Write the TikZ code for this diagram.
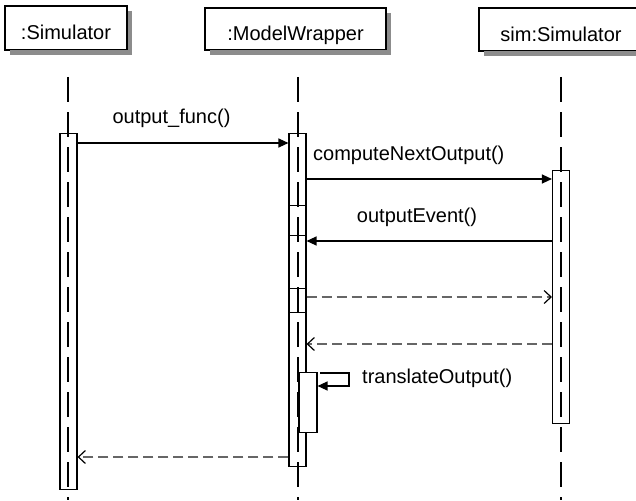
\documentclass[tikz,border=0pt]{standalone}
\usepackage{fontspec}
\setmainfont{Liberation Sans}
\usetikzlibrary{arrows.meta}
\definecolor{shadowgray}{RGB}{140,140,140}
\begin{document}
\begin{tikzpicture}[x=1pt,y=-1pt,
  every node/.style={font=\fontsize{20}{24}\selectfont},
  head/.style={draw, line width=1.2pt, fill=white, inner sep=0pt,
    text height=24pt, text depth=0pt},
  headshadow/.style={draw=shadowgray, line width=4.6pt, line cap=butt},
  life/.style={line width=1.2pt, dash pattern=on 25pt off 10pt},
  bar/.style={draw, line width=1.1pt, minimum width=17pt, inner sep=0pt, anchor=north},
  msg/.style={line width=1.2pt, -{Triangle[length=10pt,width=9pt]}},
  ret/.style={line width=1.2pt, draw=black!60, dash pattern=on 10pt off 5pt,
    -{Straight Barb[length=7pt,width=13pt,line width=1.2pt,color=black]}},
  lbl/.style={inner sep=0pt}
]
\useasboundingbox (0,0) rectangle (636,500);
% heads
\node[head, minimum width=122pt, minimum height=44pt] (h1) at (66,28) {:Simulator};
\node[head, minimum width=181pt, minimum height=42pt] (h2) at (295.5,29) {:ModelWrapper};
\node[head, minimum width=164pt, minimum height=43pt] (h3) at (561,29.5) {sim:Simulator};
% head shadows drawn as thick strokes right of and below each head
\draw[headshadow] (129.8,11) -- (129.8,55);
\draw[headshadow] (10,52.8) -- (132,52.8);
\draw[headshadow] (388.8,13) -- (388.8,55);
\draw[headshadow] (210,52.8) -- (391,52.8);
\draw[headshadow] (484,53.8) -- (648,53.8);
% lifeline ends
\coordinate (l1t) at (68,77);  \coordinate (l1b) at (68,500);
\coordinate (l2t) at (298,77); \coordinate (l2b) at (298,500);
\coordinate (l3t) at (561,77); \coordinate (l3b) at (561,500);
% activation bars
\node[bar, minimum height=356pt] (b1) at (68.5,133) {};
\node[bar, minimum height=333pt] (b2) at (297.5,133) {};
\node[bar, minimum height=253pt] (b3) at (561,170) {};
\node[bar, line width=1.4pt, minimum height=30pt] (s1) at (297.5,205) {};
\node[bar, line width=1.4pt, minimum height=24pt] (s2) at (297.5,288) {};
\node[bar, fill=white, minimum width=18pt, minimum height=60pt] (sb) at (308,372) {};
% lifelines
\draw[life] (l1t) -- (l1b);
\draw[life] (l2t) -- (l2b);
\draw[life] (l3t) -- (l3b);
% messages
\draw[msg] (b1.east |- 0,143) -- (b2.west |- 0,143);
\node[lbl] (t1) at (171.5,118) {output\_func()};
\draw[msg] (b2.east |- 0,179) -- (b3.west |- 0,179);
\node[lbl, anchor=west] (t2) at (313,155) {computeNextOutput()};
\draw[msg] (b3.west |- 0,241) -- (b2.east |- 0,241);
\node[lbl] (t3) at (417,217) {outputEvent()};
\draw[ret] (b2.east |- 0,297) -- (b3.west |- 0,297);
\draw[ret] (b3.west |- 0,344) -- (b2.east |- 0,344);
\coordinate (sa) at (320,373);
\coordinate (sc) at (349,386);
\draw[msg] (sa) -| (sc) -- (sb.east |- sc);
\node[lbl, anchor=west] (t4) at (362,378) {translateOutput()};
\draw[ret] (b2.west |- 0,457) -- (b1.east |- 0,457);
\end{tikzpicture}
\end{document}
